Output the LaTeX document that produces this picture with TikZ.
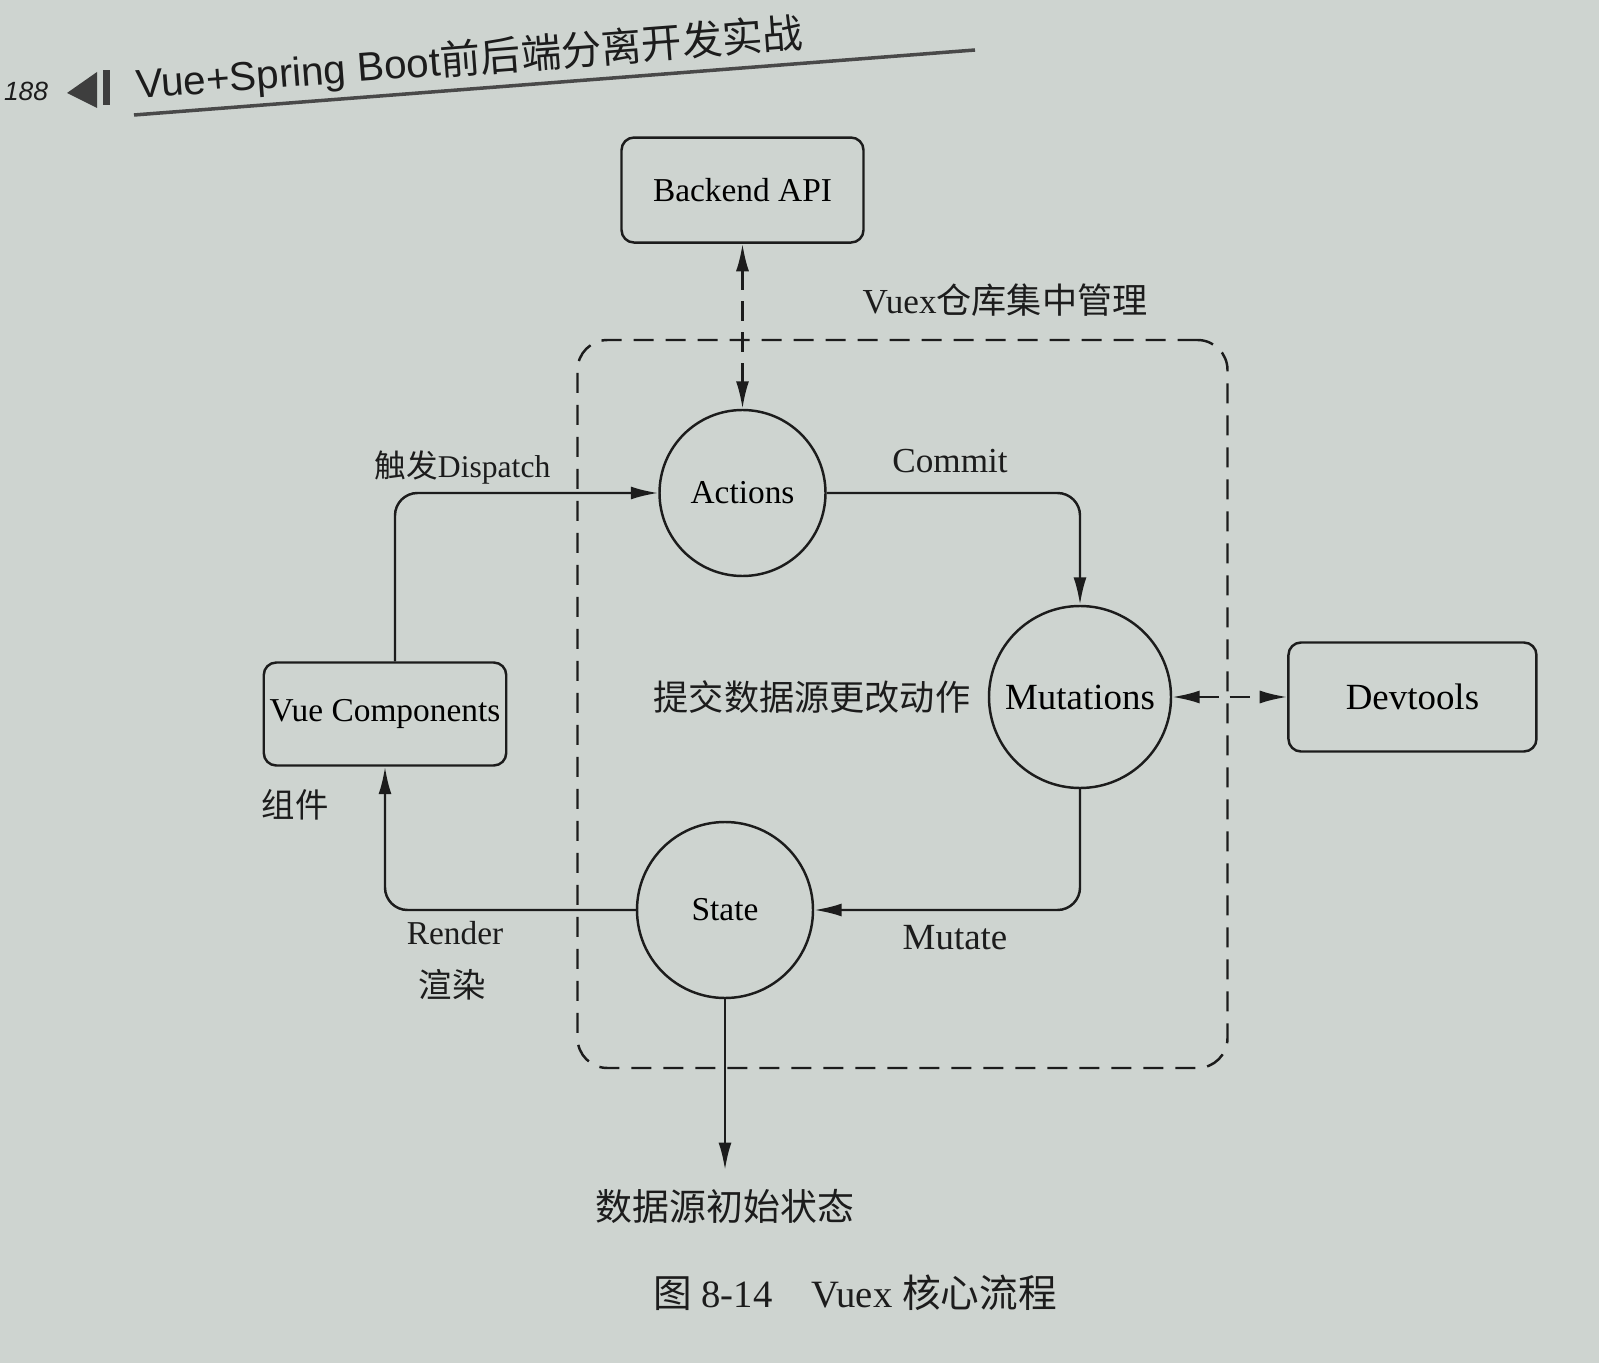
\documentclass[tikz,border=0pt]{standalone}
\usepackage{fontspec}
\setmainfont{Liberation Serif}
\newfontfamily\cjk{Noto Sans CJK SC}
\newfontfamily\hdfont{Liberation Sans}
\usetikzlibrary{positioning,arrows.meta,calc}
\definecolor{paper}{RGB}{206,212,208}
\definecolor{ink}{RGB}{28,28,28}
\newcommand{\fs}[1]{\fontsize{#1}{#1}\selectfont}
\tikzset{main node/.style={circle,draw=ink,line width=1.4pt,inner sep=0pt,font=\fs{19}},
box node/.style={rectangle,rounded corners=0.25cm,draw=ink,line width=1.4pt,
minimum width=4.84cm,minimum height=2.1cm,font=\fs{19}},
flow/.style={draw=ink,line width=1.4pt,rounded corners=0.45cm,-{Latex[length=0.55cm,width=0.26cm]}},
both flow/.style={draw=ink,line width=1.4pt,dash pattern=on 0.4cm off 0.22cm,
{Latex[length=0.55cm,width=0.26cm]}-{Latex[length=0.55cm,width=0.26cm]}},
store box/.style={rectangle,draw=ink,line width=1.4pt,rounded corners=0.6cm,
dash pattern=on 0.4cm off 0.24cm},
lbl/.style={text=ink,inner sep=1pt,font=\fs{19}}}

\begin{document}
\begin{tikzpicture}
    \fill[paper] (0,0) rectangle (31.98,-27.26);
    \useasboundingbox (0,0) rectangle (31.98,-27.26);

    % page header
    \node[lbl,font=\hdfont\itshape\fs{15}] (page) at (0.52,-1.82) {188};
    \fill[ink!85] (1.34,-1.86) -- (1.94,-1.44) -- (1.94,-2.16) -- cycle;
    \fill[ink!85] (2.06,-1.4) rectangle (2.2,-2.1);
    \node[lbl,anchor=base west,rotate=4.4,font=\hdfont\fs{23}] (head) at (2.7,-1.98)
        {Vue+Spring Boot{\cjk 前后端分离开发实战}};
    \draw[ink!80,line width=2pt] (2.68,-2.3) -- (19.5,-1.0);

    % store
    \node[store box,minimum width=13cm,minimum height=14.56cm] (store) at (18.05,-14.08) {};
    \node[lbl,font=\fs{20}] (storelbl) at (20.1,-6.0) {Vuex{\cjk 仓库集中管理}};

    \node[main node,minimum size=3.32cm] (actions) at (14.85,-9.86) {Actions};
    \node[box node] (backend) [above=3.3cm of actions] {Backend API};
    \node[main node,minimum size=3.64cm,font=\fs{21}] (mutations) at (21.6,-13.94) {Mutations};
    \node[box node,minimum width=4.96cm,minimum height=2.18cm,font=\fs{21}] (devtools) [right=2.3cm of mutations] {Devtools};
    \node[main node,minimum size=3.52cm] (state) at (14.5,-18.2) {State};
    \node[box node,minimum width=4.8cm,minimum height=2.06cm] (vue) at (7.7,-14.28) {Vue Components};

    \coordinate (init) at (14.5,-23.4);

    \path[flow]
    ([xshift=0.2cm]vue.north) |- (actions.west);
    \path[flow] (actions.east) -| (mutations.north);
    \path[flow] (mutations.south) |- (state.east);
    \path[flow] (state.west) -| (vue.south);
    \path[flow,rounded corners=0pt] (state.south) -- (init);
    \path[both flow] (backend.south -| actions.north) -- (actions.north);
    \path[both flow] (mutations.east) -- (devtools.west);

    \node[lbl,font=\fs{18}] (dispatch) at (9.25,-9.35) {{\cjk 触发}Dispatch};
    \node[lbl,font=\fs{20}] (commit) at (19.0,-9.22) {Commit};
    \node[lbl,font=\fs{21}] (mutate) at (19.1,-18.76) {Mutate};
    \node[lbl] (render) at (9.1,-18.66) {Render};
    \node[lbl,font=\cjk\fs{19}] (renderzh) at (9.04,-19.7) {渲染};
    \node[lbl,font=\cjk\fs{19}] (comp) at (5.9,-16.1) {组件};
    \node[lbl,font=\cjk\fs{20}] (submit) at (16.24,-13.94) {提交数据源更改动作};
    \node[lbl,font=\cjk\fs{21}] (initlbl) [below=0.35cm of init] {数据源初始状态};

    \node[lbl,font=\fs{22}] (caption) at (17.1,-25.85)
        {{\cjk 图} 8-14\quad Vuex {\cjk 核心流程}};

\end{tikzpicture}
\end{document}
